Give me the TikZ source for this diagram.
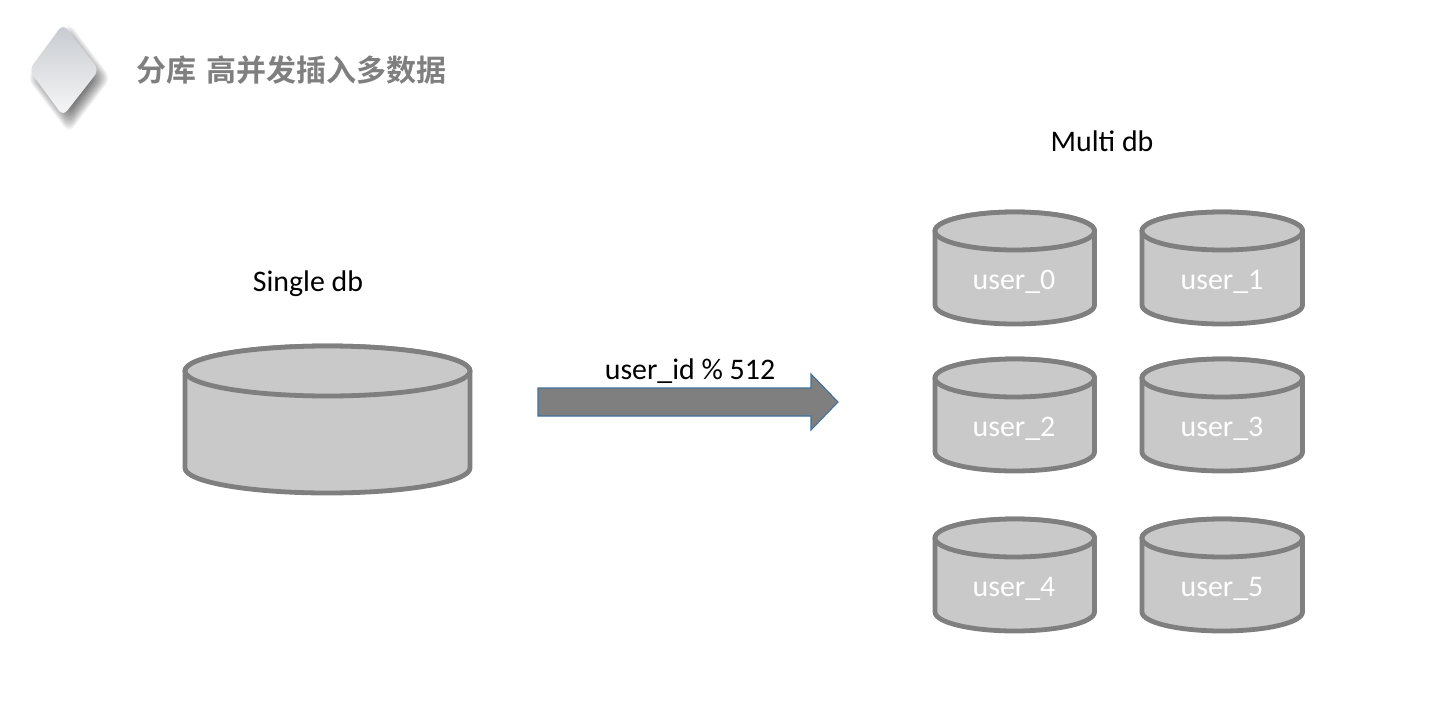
\documentclass[tikz,border=0pt]{standalone}
\usepackage{fontspec}
\setmainfont{Carlito}
\newfontfamily\cjkfont{Noto Sans CJK SC}[BoldFont={* Bold}]
\definecolor{dbfill}{HTML}{C9C9C9}
\definecolor{dbline}{HTML}{7F7F7F}
\definecolor{arrowline}{HTML}{41719C}
\definecolor{icontop}{HTML}{C6CACF}
\definecolor{iconbottom}{HTML}{F7F7F8}
\tikzset{
  x=0.75pt,y=-0.75pt,
  dbbody/.style={draw=dbline,fill=dbfill,line width=3.6pt,line join=round},
  label/.style={font=\fontsize{22.4}{26}\selectfont,text=black,inner sep=0pt},
  dblabel/.style={font=\fontsize{22.4}{26}\selectfont,text=white,inner sep=0pt},
  titletext/.style={font=\cjkfont\bfseries\fontsize{22.5}{26}\selectfont,text=dbline,inner sep=0pt,anchor=west},
  blockarrow/.style={draw=arrowline,fill=dbline,line width=0.8pt,line join=miter},
}
% #1 left x, #2 right x, #3 top ellipse centre y, #4 bottom ellipse centre y, #5 ry
\newcommand{\dbcyl}[5]{%
  \pgfmathsetmacro{\rxv}{(#2-#1)/2}
  \pgfmathsetmacro{\cxv}{(#2+#1)/2}
  \draw[dbbody] (#1,#3) -- (#1,#4) arc[start angle=180,end angle=360,x radius=\rxv,y radius=-#5] -- (#2,#3) arc[start angle=0,end angle=180,x radius=\rxv,y radius=-#5] -- cycle;
  \draw[dbbody] (\cxv,#3) ellipse[x radius=\rxv,y radius=#5];
}
\begin{document}
\begin{tikzpicture}
\useasboundingbox (0,0) rectangle (1431,725);
% diamond icon with soft shadow
\foreach \s in {24,...,42}{
  \fill[black,opacity=0.04,rounded corners=6pt]
    (69,{78-\s*1.32}) -- ({69+\s},78) -- (69,{78+\s*1.32}) -- ({69-\s},78) -- cycle;
}
\shade[top color=icontop,bottom color=iconbottom,rounded corners=5pt]
  (63,24) -- (99,70) -- (63,116) -- (29,70) -- cycle;
\node[titletext] (title) at (136,70) {分库\hspace{7.5pt}高并发插入多数据};
% single db
\node[label] (single) at (308,284) {Single db};
\dbcyl{185}{470}{371}{468}{25}
% arrow
\coordinate (arrowtail) at (538,402);
\coordinate (arrowtip) at (838,402);
\draw[blockarrow] (arrowtail) ++(0,-14) -- (811,388) -- (811,374) -- (arrowtip) -- (811,430) -- (811,416) -- (538,416) -- cycle;
\node[label] (rule) at (690,371) {user\_id \% 512};
% multi db
\node[label] (multi) at (1102,141) {Multi db};
\dbcyl{935}{1094.5}{231}{305}{19}
\dbcyl{1142}{1302.5}{231}{305}{19}
\dbcyl{935}{1094.5}{378}{452}{19}
\dbcyl{1142}{1302.5}{378}{452}{19}
\dbcyl{935}{1094.5}{538}{612}{19}
\dbcyl{1142}{1302.5}{538}{612}{19}
\node[dblabel] (u0) at (1014,282) {user\_0};
\node[dblabel] (u1) at (1222,282) {user\_1};
\node[dblabel] (u2) at (1014,429) {user\_2};
\node[dblabel] (u3) at (1222,429) {user\_3};
\node[dblabel] (u4) at (1014,589) {user\_4};
\node[dblabel] (u5) at (1222,589) {user\_5};
\end{tikzpicture}
\end{document}
